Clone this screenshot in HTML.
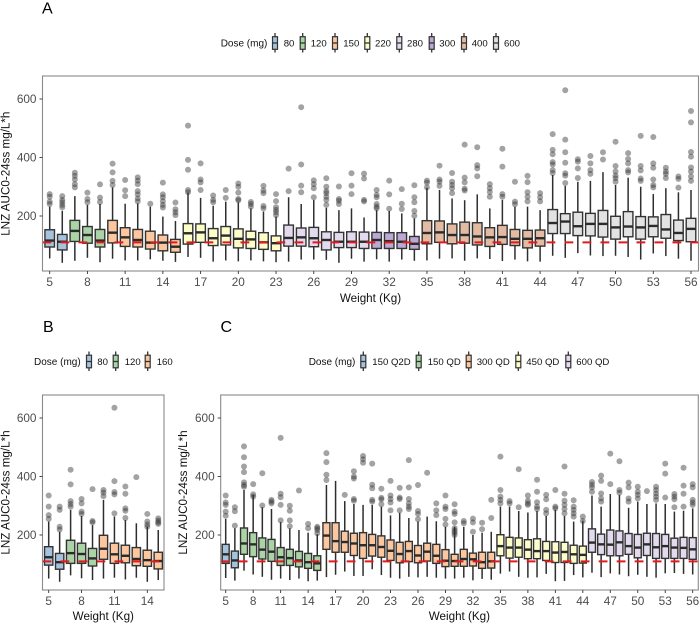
<!DOCTYPE html>
<html lang="en">
<head>
<meta charset="utf-8">
<title>LNZ AUC by weight and dose</title>
<style>
html,body{margin:0;padding:0;background:#fff;}
svg{display:block;font-family:"Liberation Sans",sans-serif;}
.tag{font-size:16px;fill:#000;}
.lt{font-size:9.6px;fill:#111;}
.ax{font-size:11.65px;fill:#111;}
.tk{font-size:11.8px;fill:#4d4d4d;}
</style>
</head>
<body>
<svg id="fig" xmlns="http://www.w3.org/2000/svg" width="700" height="624" viewBox="0 0 700 624">
<defs>
<g id="lk">
<line x1="0" x2="0" y1="-10" y2="9.5" stroke="#333" stroke-width="1.3"/>
<rect x="-2.5" y="-6.3" width="5" height="12.6" stroke="#333" stroke-width="1.2"/>
<line x1="-2.5" x2="2.5" y1="0" y2="0" stroke="#333" stroke-width="1.3"/>
</g>
</defs>

<text class="tag" x="42" y="13.5">A</text>
<text class="tag" x="43" y="332">B</text>
<text class="tag" x="220.5" y="332">C</text>

<g>
<text class="lt" style="font-size:10px" x="220.7" y="46.5">Dose (mg)</text>
<use href="#lk" x="275" y="43" fill="#a6c3de"/><text class="lt" x="283.7" y="46.5">80</text>
<use href="#lk" x="302.7" y="43" fill="#aad4a5"/><text class="lt" x="310.7" y="46.5">120</text>
<use href="#lk" x="335" y="43" fill="#fcc69f"/><text class="lt" x="343.3" y="46.5">150</text>
<use href="#lk" x="367.3" y="43" fill="#fdfdca"/><text class="lt" x="375" y="46.5">220</text>
<use href="#lk" x="399.3" y="43" fill="#e4daef"/><text class="lt" x="407" y="46.5">280</text>
<use href="#lk" x="431.7" y="43" fill="#bba8d5"/><text class="lt" x="439.3" y="46.5">300</text>
<use href="#lk" x="464" y="43" fill="#e3bba3"/><text class="lt" x="471.7" y="46.5">400</text>
<use href="#lk" x="496" y="43" fill="#e2e2e2"/><text class="lt" x="504" y="46.5">600</text>
</g>

<g>
<text class="lt" style="font-size:10px" x="34" y="365">Dose (mg)</text>
<use href="#lk" x="89" y="361.5" fill="#a6c3de"/><text class="lt" x="97.3" y="365">80</text>
<use href="#lk" x="115.7" y="361.5" fill="#aad4a5"/><text class="lt" x="124.7" y="365">120</text>
<use href="#lk" x="147.7" y="361.5" fill="#fcc69f"/><text class="lt" x="156.7" y="365">160</text>
</g>

<g>
<text class="lt" style="font-size:10px" x="308.7" y="365">Dose (mg)</text>
<use href="#lk" x="363.3" y="361.5" fill="#a6c3de"/><text class="lt" x="372.3" y="365">150 Q2D</text>
<use href="#lk" x="418.7" y="361.5" fill="#aad4a5"/><text class="lt" x="427.7" y="365">150 QD</text>
<use href="#lk" x="468.7" y="361.5" fill="#fcc69f"/><text class="lt" x="476.7" y="365">300 QD</text>
<use href="#lk" x="518.3" y="361.5" fill="#fdfdca"/><text class="lt" x="526.3" y="365">450 QD</text>
<use href="#lk" x="568.3" y="361.5" fill="#e4daef"/><text class="lt" x="576.3" y="365">600 QD</text>
</g>

<text class="ax" transform="translate(9.5,173.7) rotate(-90)" text-anchor="middle">LNZ AUC0-24ss mg/L*h</text>
<text class="ax" transform="translate(9.5,492.5) rotate(-90)" text-anchor="middle">LNZ AUC0-24ss mg/L*h</text>
<text class="ax" transform="translate(187,492.5) rotate(-90)" text-anchor="middle">LNZ AUC0-24ss mg/L*h</text>
<text class="ax" x="370.5" y="302" text-anchor="middle">Weight (Kg)</text>
<text class="ax" x="103.3" y="620" text-anchor="middle">Weight (Kg)</text>
<text class="ax" x="459.4" y="620" text-anchor="middle">Weight (Kg)</text>
</svg>

<script>
// ---------- Panel A data ----------
const aWeights = [5,6,7,8,9,10,11,12,13,14,15,16,17,18,19,20,21,22,23,24,25,26,27,28,29,30,31,32,33,34,35,36,37,38,39,40,41,42,43,44,45,46,47,48,49,50,51,52,53,54,55,56];
const aDose = ['80','80','120','120','120','150','150','150','150','150','150','220','220','220','220','220','220','220','220','280','280','280','280','280','280','280','300','300','300','300','400','400','400','400','400','400','400','400','400','400','600','600','600','600','600','600','600','600','600','600','600','600'];
const aQ3 = [153,137,185,164,154,185,160,154,148,135,120,174,173,157,164,156,148,143,132,169,159,161,146,144,146,145,144,143,143,130,184,183,173,179,177,160,168,154,151,152,222,208,213,209,219,199,215,198,197,205,186,192];
const aMedian = [116,112,149,135,116,143,127,118,109,109,95,141,144,124,133,122,120,110,107,125,127,124,118,112,112,112,118,114,112,105,142,144,135,135,130,127,128,122,122,124,176,181,165,173,173,161,164,161,166,154,142,156];
const aQ1 = [94,84,113,107,94,108,96,94,87,81,76,104,110,99,101,91,89,86,81,97,97,95,84,92,92,89,89,89,89,86,105,110,105,107,101,96,103,99,91,97,140,140,133,132,128,121,129,121,129,124,116,112];
const aLow = [55,40,47,57,42,54,48,48,52,47,43,60,57,44,48,45,48,45,42,44,51,51,50,40,54,44,52,44,51,47,48,54,55,47,55,53,46,51,45,44,64,57,73,65,63,64,60,51,72,63,54,47];
const aHigh = [232,218,268,238,241,298,242,243,232,198,183,280,262,235,249,247,226,215,198,264,241,255,228,220,226,195,220,217,209,192,297,289,260,254,274,226,255,232,232,220,340,303,317,320,350,306,331,300,275,295,281,289];
const aOutliers = [[275,266,249,241],[268,255,247,238,230],[348,337,325,309,298],[280,258,247],[308,263,248],[379,349,320,306],[323,288,268],[332,321,309,285,274,260,250],[242],[314,274,264,251,238,229],[246,223,213,203],[509,392,358,289,281],[380,325,315,289],[270,255,247],[289,262],[311,300,280,258,254],[248,241,232],[303,287,278,234,226],[275,251,230,221,213,203],[362,285],[572,376,304,281],[322,309,295,264],[329,300,285,278,266,255,238],[301,258,252,241],[346,304,275],[345,328,255,250],[289,272,264,241,232,226],[321,274,225],[292,242,224],[305,264,247,217,201],[321,314,298],[372,325,317,303],[347,317,306,295,278],[444,331,315,293,287],[435,374,363,336],[309,295,282,266],[430,369,275,266],[317,249,240],[337,316,281,266,250],[278,264,250],[480,426,411,384,376,357,347],[630,461,418,382,346,338,313],[394,386,363,330],[405,380,357,344],[418,393],[454,371,352,338,329,317],[415,395,380,357,349],[474,371,356,328,320],[470,380,365,325,306,298],[365,352,344,330],[335,327,297],[559,520,419,403,366,352,335,320]];

// ---------- Panel B data ----------
const bWeights = [5,6,7,8,9,10,11,12,13,14,15];
const bDose = ['80','80','120','120','120','160','160','160','160','160','160'];
const bQ3 = [160,137,182,172,154,199,172,165,157,148,141];
const bMedian = [124,107,138,135,120,153,134,129,118,114,111];
const bQ1 = [97,83,103,103,94,117,103,105,95,93,84];
const bLow = [51,40,62,52,46,51,54,48,54,40,46];
const bHigh = [246,211,286,265,234,320,263,251,240,228,217];
const bOutliers = [[335,297,268,255],[297,286,228,219],[423,373,316,306,297],[323,308,280,272],[357,248,243],[354,345,333],[635,384,347,339,274],[366,341,291,283,258],[398],[272,246,236,228],[257,249,243,238]];

// ---------- Panel C data ----------
const cWeights = [5,6,7,8,9,10,11,12,13,14,15,16,17,18,19,20,21,22,23,24,25,26,27,28,29,30,31,32,33,34,35,36,37,38,39,40,41,42,43,44,45,46,47,48,49,50,51,52,53,54,55,56];
const cDose = ['150 Q2D','150 Q2D','150 QD','150 QD','150 QD','150 QD','150 QD','150 QD','150 QD','150 QD','150 QD','300 QD','300 QD','300 QD','300 QD','300 QD','300 QD','300 QD','300 QD','300 QD','300 QD','300 QD','300 QD','300 QD','300 QD','300 QD','300 QD','300 QD','300 QD','300 QD','450 QD','450 QD','450 QD','450 QD','450 QD','450 QD','450 QD','450 QD','450 QD','450 QD','600 QD','600 QD','600 QD','600 QD','600 QD','600 QD','600 QD','600 QD','600 QD','600 QD','600 QD','600 QD'];
const cQ3 = [168,145,224,208,190,185,157,151,144,137,129,242,242,213,206,208,202,197,183,175,178,164,172,168,150,134,151,138,141,141,201,192,190,184,187,178,177,175,165,162,221,203,217,214,205,202,206,205,202,189,192,191];
const cMedian = [134,113,171,168,150,143,124,121,113,107,103,198,179,176,171,165,165,159,146,135,145,130,143,129,112,111,118,117,107,110,162,157,157,150,145,145,140,142,134,132,174,168,167,175,162,157,168,158,162,157,156,151];
const cQ1 = [103,88,134,126,118,110,96,96,91,86,79,151,141,141,130,120,128,124,113,105,109,105,111,103,92,93,93,94,86,87,129,121,124,119,119,113,106,106,103,104,141,133,129,129,134,122,130,120,120,120,120,117];
const cLow = [53,44,78,65,57,47,51,46,51,42,44,56,64,75,60,60,83,63,54,51,57,55,57,54,51,51,54,45,50,47,68,75,57,54,55,67,42,43,63,55,71,56,69,65,59,64,57,54,69,70,67,65];
const cHigh = [255,223,354,337,295,289,244,223,217,208,203,371,385,316,306,303,303,297,267,276,258,246,263,247,228,228,228,200,208,211,297,297,282,277,282,265,286,265,246,249,335,297,340,337,293,314,306,308,306,280,283,291];
const cOutliers = [[335,311,303,280,266],[295,281,232],[503,466,434,415,380,371,365],[374,339,331],[411,301],[320,314,308],[532,341,329,303,250],[300,283,250,230],[352],[238,223],[228,223,217,206],[480,449,406,388],[],[337],[418,400,393,323,317],[470,459,447],[444,372,360,320,314],[358,327,322,305],[385,335,323,311,284],[361,328,323,284],[456,363,323,308,297,289],[371,282,272,254],[413],[308,284,268],[335,297,289,255,236],[305,280,272,243,223,215,208,200],[248,240],[256,243,211],[242,220],[320,258],[468,354,331,320,308],[316,308],[425,295],[335,317,308,303],[389,348,312,297,289],[337,322,286,274],[354,297,291],[434,341,317,303,289,274],[319,297,286,274,263],[263,248],[381,372,363,348],[403,385,342,325,314],[478,374],[452,354,345],[379,363,325,314],[365,348,337,325],[350],[365,354,342,331,320],[444,410,328],[340,331,322,295],[430,369,341,297],[374,363,320,311,303]];

// ---------- Shared ticks, reference value, colours ----------
const yTickValues = [200,400,600];
const aXTicks = [5,8,11,14,17,20,23,26,29,32,35,38,41,44,47,50,53,56];
const bXTicks = [5,8,11,14];
const cXTicks = [5,8,11,14,17,20,23,26,29,32,35,38,41,44,47,50,53,56];
const referenceLine = [110];
const aColors = {'80':'#a6c3de','120':'#aad4a5','150':'#fcc69f','220':'#fdfdca','280':'#e4daef','300':'#bba8d5','400':'#e3bba3','600':'#e2e2e2'};
const bColors = {'80':'#a6c3de','120':'#aad4a5','160':'#fcc69f'};
const cColors = {'150 Q2D':'#a6c3de','150 QD':'#aad4a5','300 QD':'#fcc69f','450 QD':'#fdfdca','600 QD':'#e4daef'};

const NS = 'http://www.w3.org/2000/svg';
const fig = document.getElementById('fig');
function mk(tag, attrs, parent){
  const e = document.createElementNS(NS, tag);
  for (const k in attrs) e.setAttribute(k, attrs[k]);
  parent.appendChild(e);
  return e;
}
function linear(d0, d1, r0, r1){
  return function(v){ return r0 + (v - d0) * (r1 - r0) / (d1 - d0); };
}

function drawPanel(p){
  const x = linear(p.xRef[0], p.xRef[1], p.xPix[0], p.xPix[1]);
  const y = linear(200, 600, p.y200, p.y600);
  const step = Math.abs(x(p.xRef[0] + 1) - x(p.xRef[0]));
  const bw = step * 0.76;
  const g = mk('g', {}, fig);
  
  

  p.weights.forEach(function(w, i){
    const cx = x(w);
    const bg = mk('g', {}, g);
    
    
    const wh = mk('line', {x1:cx, x2:cx, y1:y(p.high[i]), y2:y(p.low[i]), stroke:'#2e2e2e', 'stroke-width':1.5}, bg);
    
    
    p.out[i].forEach(function(v){
      const c = mk('circle', {cx:cx, cy:y(v), r:3, fill:'#333', 'fill-opacity':0.45}, bg);
      
      
    });
    const r = mk('rect', {x:cx - bw / 2, y:y(p.q3[i]), width:bw, height:y(p.q1[i]) - y(p.q3[i]), fill:p.colors[p.dose[i]], stroke:'#333', 'stroke-width':1.4}, bg);
    
    
    const m = mk('line', {x1:cx - bw / 2, x2:cx + bw / 2, y1:y(p.med[i]), y2:y(p.med[i]), stroke:'#2b2b2b', 'stroke-width':2.4}, bg);
    
    
  });

  const ref = mk('line', {x1:p.left, x2:p.right, y1:y(referenceLine[0]), y2:y(referenceLine[0]), stroke:'#e31a1c', 'stroke-width':2, 'stroke-dasharray':'8.8 9.2'}, g);
  
  

  const border = mk('rect', {x:p.left, y:p.top, width:p.right - p.left, height:p.bottom - p.top, fill:'none', stroke:'#8a8a8a', 'stroke-width':1.1}, g);
  
  

  yTickValues.forEach(function(v){
    const t = mk('line', {x1:p.left - 3, x2:p.left, y1:y(v), y2:y(v), stroke:'#333', 'stroke-width':0.9}, g);
    
    
    const l = mk('text', {class:'tk', x:p.left - 6, y:y(v) + 4.2, 'text-anchor':'end'}, g);
    
    
    l.textContent = v;
  });
  p.xTicks.forEach(function(v){
    const t = mk('line', {x1:x(v), x2:x(v), y1:p.bottom, y2:p.bottom + 3, stroke:'#333', 'stroke-width':0.9}, g);
    
    
    const l = mk('text', {class:'tk', x:x(v), y:p.bottom + 15, 'text-anchor':'middle'}, g);
    
    
    l.textContent = v;
  });
}

drawPanel({id:'a', weights:aWeights, dose:aDose, colors:aColors, q1:aQ1, med:aMedian, q3:aQ3, low:aLow, high:aHigh, out:aOutliers, xTicks:aXTicks,
  xRef:[5,56], xPix:[49.7,691], y200:216, y600:99, left:42.5, right:698.5, top:76, bottom:271});
drawPanel({id:'b', weights:bWeights, dose:bDose, colors:bColors, q1:bQ1, med:bMedian, q3:bQ3, low:bLow, high:bHigh, out:bOutliers, xTicks:bXTicks,
  xRef:[5,14], xPix:[48.7,147.3], y200:535, y600:418, left:42.5, right:164, top:395, bottom:590});
drawPanel({id:'c', weights:cWeights, dose:cDose, colors:cColors, q1:cQ1, med:cMedian, q3:cQ3, low:cLow, high:cHigh, out:cOutliers, xTicks:cXTicks,
  xRef:[5,56], xPix:[225.7,692.7], y200:535, y600:418, left:220.7, right:698.3, top:395, bottom:590});
</script>
</body>
</html>
